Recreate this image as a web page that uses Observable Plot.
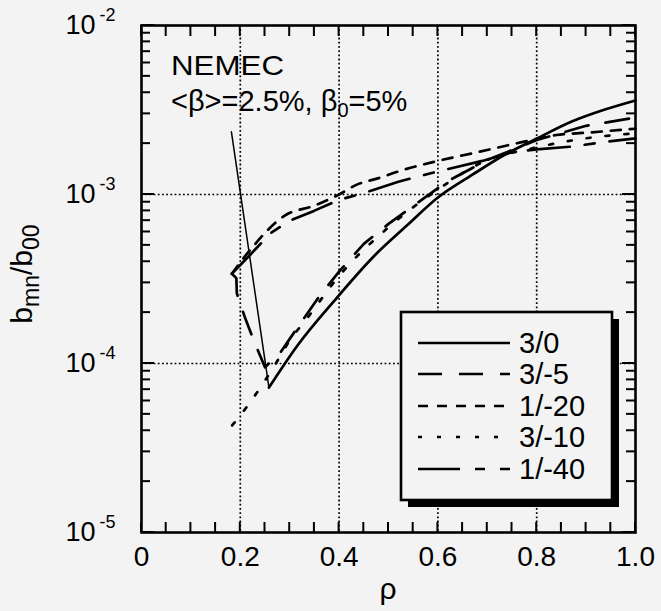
<!DOCTYPE html>
<html><head><meta charset="utf-8">
<script src="https://cdn.jsdelivr.net/npm/d3@7"></script>
<script src="https://cdn.jsdelivr.net/npm/@observablehq/plot@0.6"></script>
<style>
html,body{margin:0;padding:0;background:#f3f3f3;}
#chart svg{display:block;}
</style></head><body><div id="chart"></div>
<script>
// ---- data ----
const seriesNames = ["3/0", "3/-5", "1/-20", "3/-10", "1/-40"];

// 3/0 : steep drop then rising branch
const rho30drop = [0.182, 0.258];
const b30drop   = [2.35e-3, 7.2e-5];
const rho30 = [0.258, 0.315, 0.395, 0.469, 0.536, 0.600, 0.670, 0.737, 0.800, 0.871, 0.938, 1.000];
const b30   = [7.2e-5, 1.27e-4, 2.44e-4, 4.27e-4, 6.5e-4, 9.6e-4, 1.31e-3, 1.73e-3, 2.14e-3, 2.70e-3, 3.18e-3, 3.60e-3];

// 3/-5
const rho3m5 = [0.183, 0.192, 0.193, 0.210, 0.228, 0.250, 0.280, 0.320, 0.360, 0.400, 0.450, 0.500, 0.565, 0.620, 0.700, 0.800, 0.900, 1.000];
const b3m5   = [3.4e-4, 3.2e-4, 2.6e-4, 1.85e-4, 1.35e-4, 9.5e-5, 1.15e-4, 1.7e-4, 2.5e-4, 3.5e-4, 5.1e-4, 6.7e-4, 9.2e-4, 1.2e-3, 1.6e-3, 2.1e-3, 2.55e-3, 2.85e-3];

// 1/-20
const rho1m20 = [0.183, 0.220, 0.290, 0.350, 0.400, 0.435, 0.480, 0.520, 0.600, 0.680, 0.770, 0.840, 0.900, 1.000];
const b1m20   = [3.4e-4, 4.7e-4, 7.5e-4, 8.6e-4, 1.0e-3, 1.14e-3, 1.25e-3, 1.37e-3, 1.58e-3, 1.78e-3, 2.04e-3, 2.25e-3, 2.32e-3, 2.45e-3];

// 3/-10
const rho3m10 = [0.1835, 0.220, 0.278, 0.300, 0.332, 0.400, 0.500, 0.600, 0.690, 0.800, 0.900, 1.000];
const b3m10   = [4.3e-5, 5.9e-5, 1.07e-4, 1.37e-4, 1.8e-4, 3.3e-4, 6.4e-4, 1.07e-3, 1.55e-3, 1.9e-3, 2.15e-3, 2.3e-3];

// 1/-40
const rho1m40 = [0.183, 0.220, 0.261, 0.300, 0.349, 0.400, 0.450, 0.520, 0.600, 0.690, 0.750, 0.800, 0.870, 0.940, 1.000];
const b1m40   = [3.4e-4, 4.4e-4, 5.9e-4, 7.0e-4, 8.0e-4, 9.3e-4, 1.02e-3, 1.19e-3, 1.37e-3, 1.58e-3, 1.78e-3, 1.85e-3, 1.92e-3, 2.05e-3, 2.15e-3];

// ticks
const xTicks = [0, 0.2, 0.4, 0.6, 0.8, 1.0];
const xTickLabels = ["0", "0.2", "0.4", "0.6", "0.8", "1.0"];
const xGrid = [0.2, 0.4, 0.6, 0.8];
const yDecades = [1e-5, 1e-4, 1e-3, 1e-2];
const yExponents = ["-5", "-4", "-3", "-2"];
const yGrid = [1e-4, 1e-3];

// ---- styles ----
const dashStyle = {
  "3/0": null,
  "3/-5": "24,17",
  "1/-20": "10,9",
  "3/-10": "4,15",
  "1/-40": "42,15,10,15"
};
const FONT = "'Liberation Sans', Arial, Helvetica, sans-serif";
const BG = "#f3f3f3";

const W = 661, H = 611;
const mL = 141, mR = 26, mT = 25, mB = 79;
const PW = W - mL - mR, PH = H - mT - mB;
const XD0 = 0, XD1 = 1, YD0 = 1e-5, YD1 = 1e-2;

const table = (xs, ys) => xs.map((x, i) => ({rho: x, b: ys[i]}));

const yMinor = [];
for (const d of [1e-5, 1e-4, 1e-3]) for (let k = 2; k <= 9; k++) yMinor.push(k * d);
const xMinor = d3.range(0, 1.0001, 0.05).map(v => +v.toFixed(2));

const lineOpts = (dash, sw = 2.7) => {
  const o = {x: "rho", y: "b", stroke: "#000", strokeWidth: sw, strokeLinejoin: "round"};
  if (dash) o.strokeDasharray = dash;
  return o;
};

const plot = Plot.plot({
  width: W, height: H,
  marginLeft: mL, marginRight: mR, marginTop: mT, marginBottom: mB,
  x: {domain: [XD0, XD1], axis: null},
  y: {type: "log", domain: [YD0, YD1], axis: null},
  style: {background: BG, fontFamily: FONT, color: "#000"},
  marks: [
    // dotted grid
    Plot.ruleX(xGrid, {stroke: "#000", strokeWidth: 1.7, strokeDasharray: "1.8,2.4"}),
    Plot.ruleY(yGrid, {stroke: "#000", strokeWidth: 1.7, strokeDasharray: "1.8,2.4"}),
    // curves
    Plot.line(table(rho30drop, b30drop), lineOpts(null, 1.5)),
    Plot.line(table(rho30, b30), {...lineOpts(null), curve: "monotone-x"}),
    Plot.line(table(rho3m5, b3m5), lineOpts(dashStyle["3/-5"])),
    Plot.line(table(rho1m20, b1m20), {...lineOpts(dashStyle["1/-20"]), curve: "monotone-x"}),
    Plot.line(table(rho3m10, b3m10), {...lineOpts(dashStyle["3/-10"]), curve: "monotone-x"}),
    Plot.line(table(rho1m40, b1m40), lineOpts(dashStyle["1/-40"])),
    Plot.frame({stroke: "#000", strokeWidth: 2.6}),
    // x tick labels
    Plot.text(xTicks, {x: d => d, text: (d, i) => xTickLabels[i], frameAnchor: "bottom", dy: 25, fontSize: 28, lineAnchor: "middle", fill: "#000"}),
    // y tick labels 10^n
    Plot.text(yDecades, {y: d => d, text: () => "10", frameAnchor: "left", dx: -46, textAnchor: "end", fontSize: 27, lineAnchor: "middle", fill: "#000"}),
    Plot.text(yDecades, {y: d => d, text: (d, i) => yExponents[i], frameAnchor: "left", dx: -42, dy: -10, textAnchor: "start", fontSize: 18, lineAnchor: "middle", fill: "#000"})
  ]
});

document.getElementById("chart").appendChild(plot);

const svg = d3.select(plot);
const scX = plot.scale("x"), scY = plot.scale("y");
const px = (scX && scX.apply) ? (v => scX.apply(v)) : d3.scaleLinear([XD0, XD1], [mL, W - mR]);
const py = (scY && scY.apply) ? (v => scY.apply(v)) : d3.scaleLog([YD0, YD1], [H - mB, mT]);
const fLeft = px(XD0), fRight = px(XD1), fTop = py(YD1), fBottom = py(YD0);

// ---- inward ticks on all four sides (positions from Plot's scales) ----
const tk = svg.append("g").attr("stroke", "#000").attr("stroke-width", 2);
const yTickList = yMinor.map(v => [v, 9]).concat(yDecades.map(v => [v, 13]));
yTickList.forEach(([v, len]) => {
  tk.append("line").attr("x1", fLeft).attr("x2", fLeft + len).attr("y1", py(v)).attr("y2", py(v));
  tk.append("line").attr("x1", fRight - len).attr("x2", fRight).attr("y1", py(v)).attr("y2", py(v));
});
xMinor.forEach(v => {
  tk.append("line").attr("x1", px(v)).attr("x2", px(v)).attr("y1", fBottom).attr("y2", fBottom - 10);
  tk.append("line").attr("x1", px(v)).attr("x2", px(v)).attr("y1", fTop).attr("y2", fTop + 11);
});

// ---- annotations, axis titles and legend ----
// y-axis title  b_mn / b_00
const yt = svg.append("text")
  .attr("transform", "translate(32,274) rotate(-90)")
  .attr("text-anchor", "middle")
  .attr("font-family", FONT).attr("font-size", 30).attr("fill", "#000");
yt.append("tspan").text("b");
yt.append("tspan").attr("font-size", 23).attr("dy", 7).text("mn");
yt.append("tspan").attr("dy", -7).text("/b");
yt.append("tspan").attr("font-size", 23).attr("dy", 7).text("00");

// x-axis title
svg.append("text").attr("x", (fLeft + fRight) / 2).attr("y", 599)
  .attr("text-anchor", "middle").attr("font-family", FONT).attr("font-size", 30).attr("fill", "#000")
  .text("ρ");

// annotation
svg.append("text").attr("x", 171).attr("y", 75).attr("text-anchor", "start")
  .attr("font-family", FONT).attr("font-size", 28).attr("fill", "#000")
  .attr("textLength", 113).attr("lengthAdjust", "spacingAndGlyphs").text("NEMEC");
const t2 = svg.append("text").attr("x", 171).attr("y", 111).attr("text-anchor", "start")
  .attr("font-family", FONT).attr("font-size", 29).attr("fill", "#000");
t2.append("tspan").text("<β>=2.5%, β");
t2.append("tspan").attr("font-size", 20).attr("dy", 6).text("0");
t2.append("tspan").attr("dy", -6).text("=5%");

// legend box with drop shadow
const lg = svg.append("g");
lg.append("rect").attr("x", 408).attr("y", 319).attr("width", 211).attr("height", 188).attr("fill", "#000");
lg.append("rect").attr("x", 401).attr("y", 312).attr("width", 211).attr("height", 188)
  .attr("fill", BG).attr("stroke", "#000").attr("stroke-width", 2.6);
const rowY = [343, 374, 406, 437, 469];
seriesNames.forEach((sname, i) => {
  const ln = lg.append("line").attr("x1", 418).attr("x2", 510).attr("y1", rowY[i]).attr("y2", rowY[i])
    .attr("stroke", "#000").attr("stroke-width", 2.6);
  if (dashStyle[sname]) ln.attr("stroke-dasharray", dashStyle[sname]);
  lg.append("text").attr("x", 519).attr("y", rowY[i]).attr("dy", "0.36em").attr("text-anchor", "start")
    .attr("font-family", FONT).attr("font-size", 29).attr("fill", "#000").text(sname);
});
</script>
</body></html>
